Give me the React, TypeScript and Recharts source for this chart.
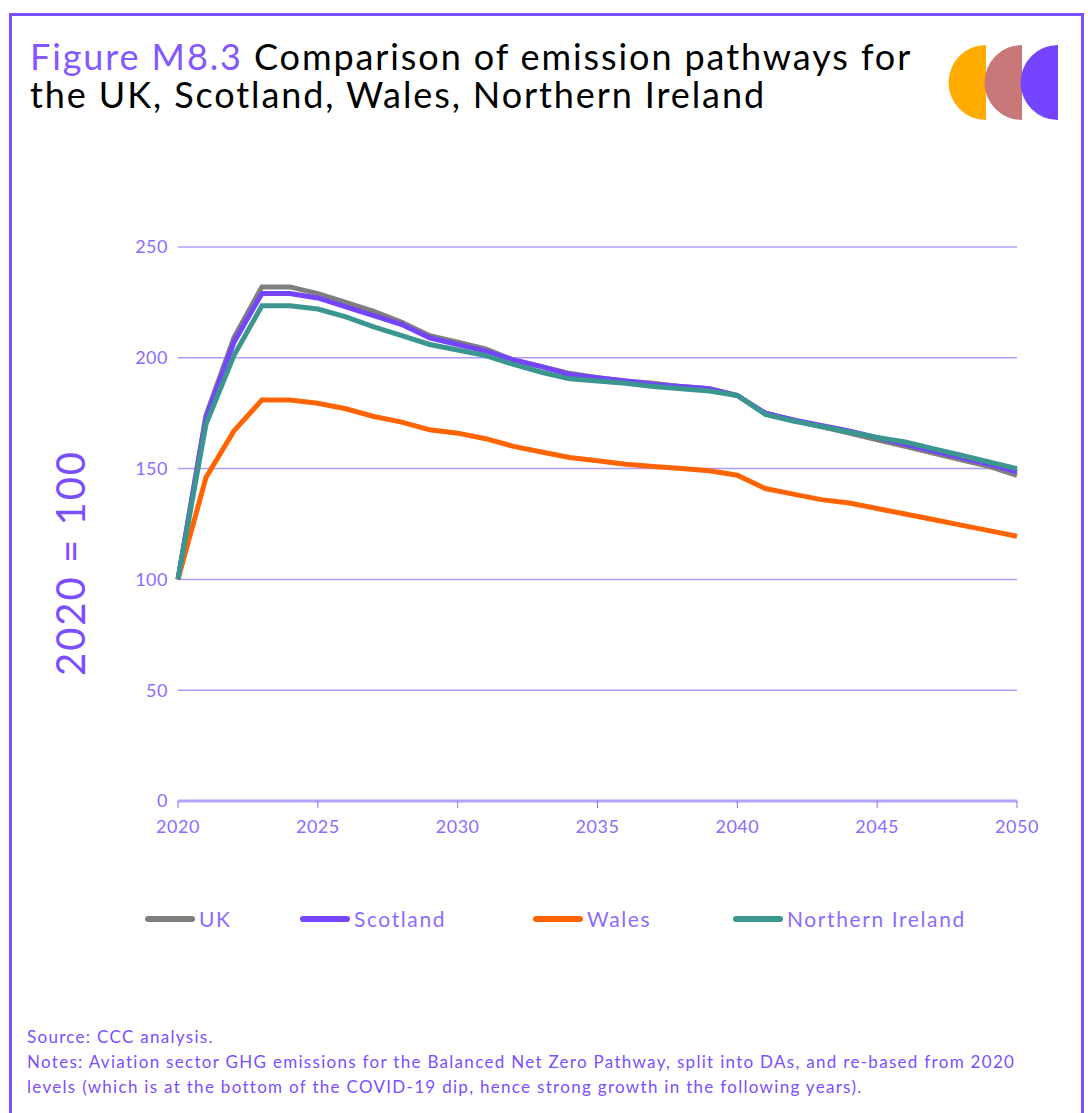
import { LineChart, Line, XAxis, YAxis, CartesianGrid, Legend } from 'recharts';

const years = [2020, 2021, 2022, 2023, 2024, 2025, 2026, 2027, 2028, 2029, 2030, 2031, 2032, 2033, 2034, 2035, 2036, 2037, 2038, 2039, 2040, 2041, 2042, 2043, 2044, 2045, 2046, 2047, 2048, 2049, 2050];
const uk = [100, 174, 209, 232, 232, 229, 225, 221, 216, 210, 207, 204, 199, 196, 193, 191, 189.5, 188.5, 187, 186, 183, 175, 172, 169, 166, 163, 160, 157, 154, 151, 147];
const scotland = [100, 173, 207, 229, 229, 227, 223, 219, 215, 209, 206, 203, 199, 196, 192.5, 191, 189.5, 188, 187, 186, 183, 175, 172, 169.5, 167, 164, 161, 158, 155, 152, 148.5];
const wales = [100, 146, 167, 181, 181, 179.5, 177, 173.5, 171, 167.5, 166, 163.5, 160, 157.5, 155, 153.5, 152, 151, 150, 149, 147, 141, 138.5, 136, 134.5, 132, 129.5, 127, 124.5, 122, 119.5];
const northernIreland = [100, 170, 201, 223.5, 223.5, 222, 218.5, 214, 210, 206, 203.5, 201, 197, 193.5, 190.5, 189.5, 188.5, 187, 186, 185, 183, 174.5, 171.5, 169, 166.5, 164, 162, 159, 156, 153, 150];
const xTicks = [2020, 2025, 2030, 2035, 2040, 2045, 2050];
const yTicks = [0, 50, 100, 150, 200, 250];

const series = [
  { key: 'UK', color: '#7f7f7f' },
  { key: 'Scotland', color: '#7444ff' },
  { key: 'Wales', color: '#ff6400' },
  { key: 'Northern Ireland', color: '#3a968f' },
];

const data = years.map((y, i) => ({
  year: y,
  UK: uk[i],
  Scotland: scotland[i],
  Wales: wales[i],
  'Northern Ireland': northernIreland[i],
}));

const FONT = 'Lato, "DejaVu Sans", sans-serif';
const PURPLE = '#7b4fff';
const TICK = '#8d6bff';

function LegendBox() {
  const xs = [145, 300, 533, 733];
  return (
    <div style={{ position: 'absolute', left: 0, top: 0, width: 1088, height: 30 }}>
      {series.map((s, i) => (
        <div key={s.key} style={{ position: 'absolute', left: xs[i], top: 0, display: 'flex', alignItems: 'center' }}>
          <div style={{ width: 50, height: 6, borderRadius: 3, background: s.color }} />
          <span style={{ fontFamily: FONT, fontSize: 21, color: TICK, marginLeft: 4, letterSpacing: 1.6 }}>{s.key}</span>
        </div>
      ))}
    </div>
  );
}

export default function App() {
  return (
    <div style={{ position: 'absolute', left: 0, top: 0, width: 1088, height: 1113, background: '#fff', overflow: 'hidden' }}>
      <div style={{ position: 'absolute', left: 9, top: 13, width: 1069, height: 1120, border: `3px solid ${PURPLE}` }} />
      <div style={{ position: 'absolute', left: 30, top: 37, width: 910, whiteSpace: 'nowrap', fontFamily: FONT, fontSize: 36, lineHeight: '38px', color: '#000', letterSpacing: 1.9 }}>
        <div><span style={{ color: '#8458ff' }}>Figure M8.3</span> Comparison of emission pathways for</div>
        <div>the UK, Scotland, Wales, Northern Ireland</div>
      </div>
      <svg style={{ position: 'absolute', left: 948, top: 44 }} width={112} height={78}>
        <path d="M38 1 A37 37 0 0 0 38 76 Z" fill="#ffab00" />
        <path d="M74 1 A37 37 0 0 0 74 76 Z" fill="#c87878" />
        <path d="M110 1 A37 37 0 0 0 110 76 Z" fill="#7444ff" />
      </svg>
      <div style={{ position: 'absolute', left: 0, top: 200 }}>
        <LineChart width={1088} height={640} data={data} margin={{ top: 47, right: 71, left: 0, bottom: 0 }}>
          <CartesianGrid vertical={false} stroke="#b09cff" strokeWidth={1.5} />
          <XAxis
            dataKey="year"
            type="number"
            domain={[2020, 2050]}
            ticks={xTicks}
            height={39}
            stroke="#b4a2ff"
            strokeWidth={3}
            tickSize={7}
            tickMargin={12}
            tick={{ fill: TICK, fontSize: 18, fontFamily: FONT, letterSpacing: 0.5 }}
            tickLine={{ stroke: TICK, strokeWidth: 1 }}
          />
          <YAxis
            domain={[0, 250]}
            ticks={yTicks}
            width={178}
            axisLine={false}
            tickLine={false}
            tickMargin={4}
            tick={{ fill: TICK, fontSize: 18, fontFamily: FONT, letterSpacing: 0.5 }}
          />
          {series.map(s => (
            <Line
              key={s.key}
              type="linear"
              dataKey={s.key}
              stroke={s.color}
              strokeWidth={5}
              dot={false}
              isAnimationActive={false}
            />
          ))}
          <Legend content={() => null} />
        </LineChart>
      </div>
      <div style={{ position: 'absolute', left: 70, top: 563, width: 0, height: 0 }}>
        <div style={{ position: 'absolute', transform: 'translate(-50%, -50%) rotate(-90deg)', whiteSpace: 'nowrap', fontFamily: FONT, fontSize: 40, letterSpacing: 2, color: PURPLE }}>
          2020 = 100
        </div>
      </div>
      <div style={{ position: 'absolute', left: 0, top: 906 }}>
        <LegendBox />
      </div>
      <div style={{ position: 'absolute', left: 27, top: 1024, width: 1050, whiteSpace: 'nowrap', fontFamily: FONT, fontSize: 17, lineHeight: '25px', color: PURPLE, letterSpacing: 1.3 }}>
        <div>Source: CCC analysis.</div>
        <div>Notes: Aviation sector GHG emissions for the Balanced Net Zero Pathway, split into DAs, and re-based from 2020</div>
        <div>levels (which is at the bottom of the COVID-19 dip, hence strong growth in the following years).</div>
      </div>
    </div>
  );
}
